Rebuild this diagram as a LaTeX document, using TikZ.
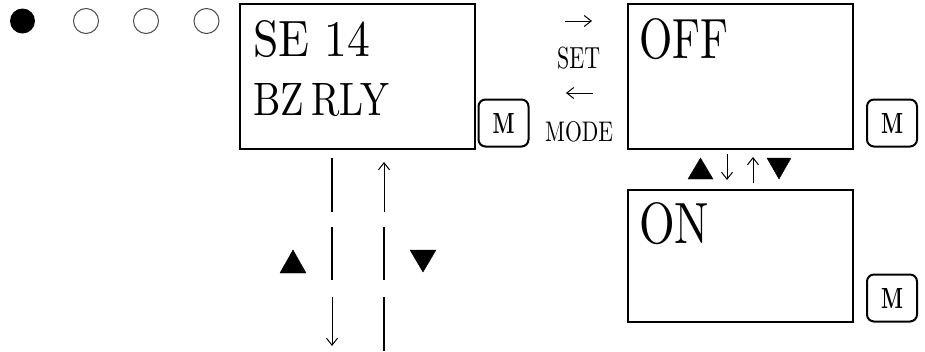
\documentclass[tikz,border=0pt]{standalone}
\usetikzlibrary{arrows.meta}
\tikzset{
  lcd/.style={draw, line width=2pt, anchor=north west, inner sep=0pt},
  mbtn/.style={draw, line width=2pt, rounded corners=7pt, minimum width=50pt, minimum height=47pt, inner sep=0pt},
  thinarrow/.style={line width=1pt, -{Straight Barb[length=7pt,width=11pt]}},
  seg/.style={line width=2pt},
  tri/.style={fill=black},
  dot/.style={draw=black!70, line width=1pt},
  lbl/.style={inner sep=0pt, anchor=base west}
}
\begin{document}
\begin{tikzpicture}[x=1pt,y=-1pt]
\useasboundingbox (0,0) rectangle (925,351);
% status dots
\node[circle, fill=black, minimum size=25pt, inner sep=0pt] (d1) at (22.5,21) {};
\node[circle, dot, minimum size=25pt, inner sep=0pt] (d2) at (86,21) {};
\node[circle, dot, minimum size=25pt, inner sep=0pt] (d3) at (146,21) {};
\node[circle, dot, minimum size=25pt, inner sep=0pt] (d4) at (206.5,21) {};
% screens
\node[lcd, minimum width=235pt, minimum height=145pt] (b1) at (239,3) {};
\node[lcd, minimum width=225pt, minimum height=145pt] (b2) at (627,3) {};
\node[lcd, minimum width=225pt, minimum height=132pt] (b3) at (627,189) {};
% texts
\node[lbl] (t1) at (253,56) {\resizebox{117pt}{36pt}{SE 14}};
\node[lbl] (t2) at (253,115) {\resizebox{136pt}{32pt}{BZ\hspace{-0.15em} RLY}};
\node[lbl] (t3) at (639,58) {\resizebox{89pt}{40pt}{OFF}};
\node[lbl] (t4) at (639,243) {\resizebox{70pt}{41pt}{ON}};
% M buttons
\node[mbtn] (m1) at (503.5,123) {\raisebox{-10pt}{\resizebox{22pt}{20pt}{\bfseries M}}};
\node[mbtn] (m2) at (892,123) {\raisebox{-10pt}{\resizebox{22pt}{20pt}{\bfseries M}}};
\node[mbtn] (m3) at (892,298) {\raisebox{-10pt}{\resizebox{22pt}{20pt}{\bfseries M}}};
% SET / MODE
\node[lbl] (set) at (557,68) {\resizebox{43pt}{21.5pt}{SET}};
\node[lbl] (mode) at (545,141) {\resizebox{68pt}{20pt}{MODE}};
\coordinate (r1) at (565,21); \coordinate (r2) at (592,21);
\coordinate (l1) at (593,93); \coordinate (l2) at (566,93);
\draw[thinarrow] (r1) -- (r2);
\draw[thinarrow] (l1) -- (l2);
% between OFF and ON
\draw[tri] (688,179) -- (713,179) -- (700.5,158) -- cycle;
\draw[tri] (767,158) -- (791,158) -- (779,179) -- cycle;
\coordinate (da) at (727,154); \coordinate (db) at (727,180);
\coordinate (ua) at (753,183); \coordinate (ub) at (753,157);
\draw[thinarrow] (da) -- (db);
\draw[thinarrow] (ua) -- (ub);
% vertical lines under first screen
\coordinate (a1) at (332,158); \coordinate (a2) at (332,212);
\coordinate (a3) at (332,227); \coordinate (a4) at (332,280);
\coordinate (a5) at (332,297); \coordinate (a6) at (332,346);
\draw[seg] (a1) -- (a2);
\draw[seg] (a3) -- (a4);
\draw[thinarrow] (a5) -- (a6);
\coordinate (c1) at (384,212); \coordinate (c2) at (384,162);
\coordinate (c3) at (384,227); \coordinate (c4) at (384,280);
\coordinate (c5) at (384,297); \coordinate (c6) at (384,351);
\draw[thinarrow] (c1) -- (c2);
\draw[seg] (c3) -- (c4);
\draw[seg] (c5) -- (c6);
\draw[tri] (280,273) -- (306,273) -- (293,250) -- cycle;
\draw[tri] (410,250) -- (436,250) -- (423,272) -- cycle;
\end{tikzpicture}
\end{document}
